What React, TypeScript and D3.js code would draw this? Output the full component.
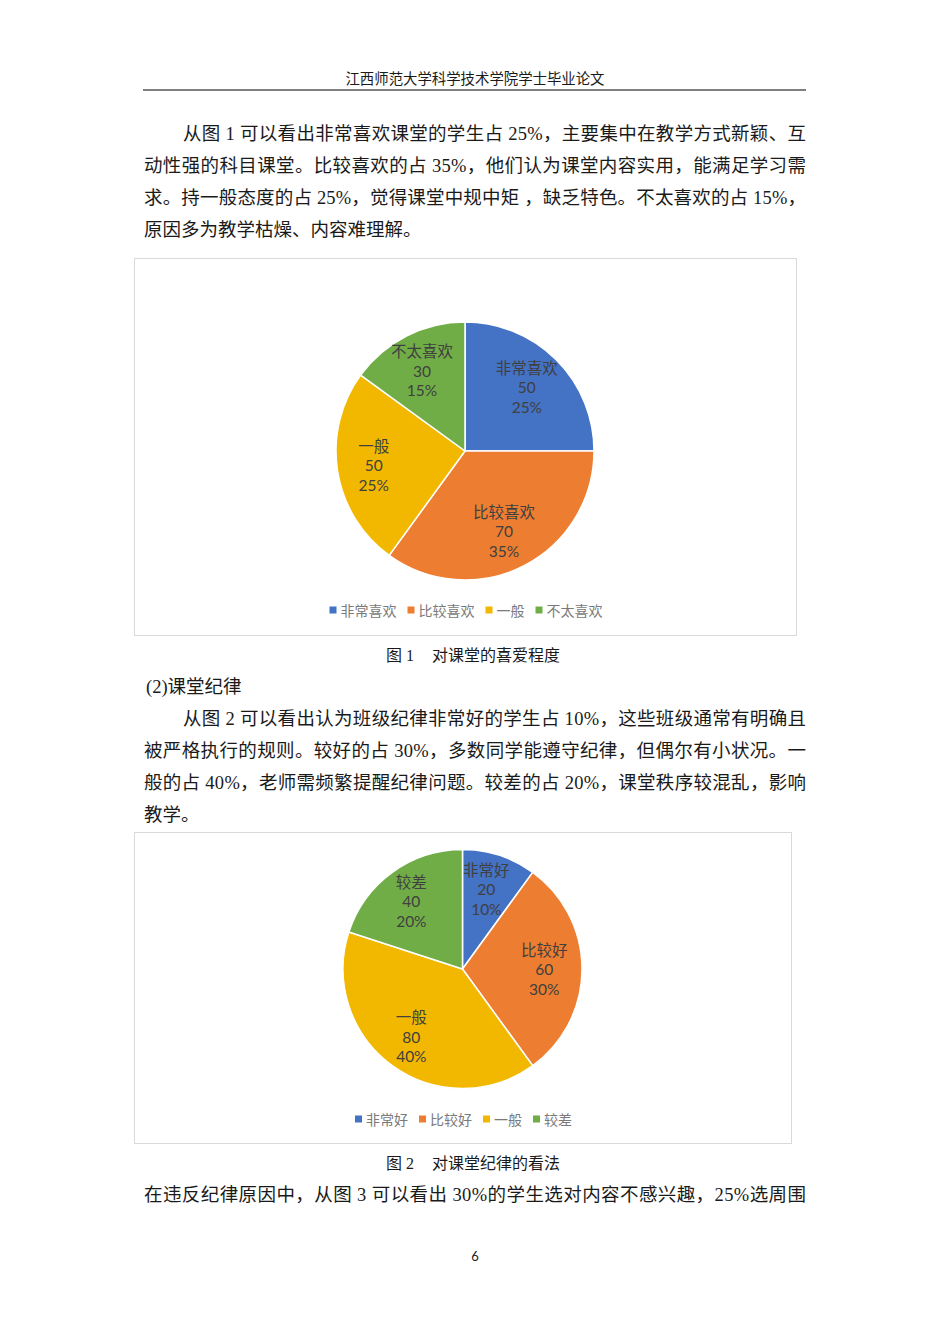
import React from 'react';
import * as d3 from 'd3';

const W = 950;
const H = 1344;

const headerText = '江西师范大学科学技术学院学士毕业论文';
const para1Lines = [
  '从图 1 可以看出非常喜欢课堂的学生占 25%，主要集中在教学方式新颖、互',
  '动性强的科目课堂。比较喜欢的占 35%，他们认为课堂内容实用，能满足学习需',
  '求。持一般态度的占 25%，觉得课堂中规中矩 ，缺乏特色。不太喜欢的占 15%，',
  '原因多为教学枯燥、内容难理解。',
];
const section2Title = '(2)课堂纪律';
const para2Lines = [
  '从图 2 可以看出认为班级纪律非常好的学生占 10%，这些班级通常有明确且',
  '被严格执行的规则。较好的占 30%，多数同学能遵守纪律，但偶尔有小状况。一',
  '般的占 40%，老师需频繁提醒纪律问题。较差的占 20%，课堂秩序较混乱，影响',
  '教学。',
];
const trailingLine = '在违反纪律原因中，从图 3 可以看出 30%的学生选对内容不感兴趣，25%选周围';
const pageNumber = '6';

const chart1Categories = ['非常喜欢', '比较喜欢', '一般', '不太喜欢'];
const chart1Values = [50, 70, 50, 30];
const chart1CaptionNo = '图 1';
const chart1CaptionText = '对课堂的喜爱程度';

const chart2Categories = ['非常好', '比较好', '一般', '较差'];
const chart2Values = [20, 60, 80, 40];
const chart2CaptionNo = '图 2';
const chart2CaptionText = '对课堂纪律的看法';

const seriesColors = ['#4472C4', '#ED7D31', '#F2B800', '#70AD47'];

const BODY_FONT = '"Liberation Serif", "Noto Sans CJK SC", serif';
const LABEL_FONT = 'Lato, "Noto Sans CJK SC", sans-serif';
const LEGEND_FONT = '"Liberation Serif", "Noto Sans CJK SC", serif';

const TEXT_LEFT = 144;
const TEXT_RIGHT = 806;
const INDENT = 39;
const BODY_SIZE = 18.5;

type ParaProps = { lines: string[]; top: number; lineGap: number };

function Paragraph({ lines, top, lineGap }: ParaProps) {
  return (
    <g>
      {lines.map((ln, i) => {
        const x = i === 0 ? TEXT_LEFT + INDENT : TEXT_LEFT;
        const justify = i < lines.length - 1;
        return (
          <text
            key={i}
            x={x}
            y={top + i * lineGap}
            fontSize={BODY_SIZE}
            fontFamily={BODY_FONT}
            fill="#1a1a1a"
            {...(justify ? { textLength: TEXT_RIGHT - x, lengthAdjust: 'spacing' } : {})}
          >
            {ln}
          </text>
        );
      })}
    </g>
  );
}

type PieProps = {
  categories: string[];
  values: number[];
  box: { x0: number; y0: number; x1: number; y1: number };
  cy: number;
  r: number;
  legendY: number;
};

function PieChart({ categories, values, box, cy, r, legendY }: PieProps) {
  const cx = (box.x0 + box.x1) / 2;
  const total = d3.sum(values);
  const pct = d3.format('.0%');
  const color = d3.scaleOrdinal<string, string>().domain(categories).range(seriesColors);
  const pie = d3
    .pie<number>()
    .sort(null)
    .value((d) => d)
    .startAngle(0)
    .endAngle(2 * Math.PI);
  const arcs = pie(values);
  const arc = d3.arc<d3.PieArcDatum<number>>().innerRadius(0).outerRadius(r);
  const labelArc = d3
    .arc<d3.PieArcDatum<number>>()
    .innerRadius(r * 0.7)
    .outerRadius(r * 0.7);

  // legend layout
  const lgSize = 14;
  const sq = 7;
  const sqGap = 4;
  const itemGap = 11;
  const widths = categories.map((c) => sq + sqGap + c.length * lgSize);
  const totalW = d3.sum(widths) + itemGap * (categories.length - 1);
  let lx = cx - totalW / 2 + 1;
  const legendItems = categories.map((c, i) => {
    const item = { c, x: lx, color: color(c) };
    lx += widths[i] + itemGap;
    return item;
  });

  return (
    <g>
      <rect
        x={box.x0 + 0.5}
        y={box.y0 + 0.5}
        width={box.x1 - box.x0}
        height={box.y1 - box.y0}
        fill="#ffffff"
        stroke="#d9d9d9"
        strokeWidth={1}
      />
      <g transform={`translate(${cx},${cy})`}>
        {arcs.map((a, i) => (
          <path
            key={i}
            d={arc(a) || ''}
            fill={color(categories[i])}
            stroke="#ffffff"
            strokeWidth={1.5}
            strokeLinejoin="round"
          />
        ))}
        {arcs.map((a, i) => {
          const [lxp, lyp] = labelArc.centroid(a);
          const lines = [categories[i], String(values[i]), pct(values[i] / total)];
          const x = lxp - 2;
          return (
            <text
              key={'l' + i}
              x={x}
              y={lyp}
              textAnchor="middle"
              fontSize={15.5}
              fontFamily={LABEL_FONT}
              fill="#404040"
            >
              {lines.map((t, k) => (
                <tspan key={k} x={x} y={lyp + (k - 1) * 19.5} dominantBaseline="central">
                  {t}
                </tspan>
              ))}
            </text>
          );
        })}
      </g>
      {legendItems.map((it, i) => (
        <g key={'lg' + i}>
          <rect x={it.x} y={legendY - 9.5} width={sq} height={sq} fill={it.color} />
          <text
            x={it.x + sq + sqGap}
            y={legendY}
            fontSize={lgSize}
            fontFamily={LEGEND_FONT}
            fill="#7a7a7a"
          >
            {it.c}
          </text>
        </g>
      ))}
    </g>
  );
}

function Caption({ no, text, y }: { no: string; text: string; y: number }) {
  return (
    <g fontSize={16} fontFamily={BODY_FONT} fill="#1a1a1a">
      <text x={386} y={y}>
        {no}
      </text>
      <text x={432} y={y}>
        {text}
      </text>
    </g>
  );
}

export default function App() {
  return (
    <svg
      width={W}
      height={H}
      viewBox={`0 0 ${W} ${H}`}
      style={{ position: 'absolute', left: 0, top: 0, background: '#ffffff', display: 'block' }}
    >
      <rect x={0} y={0} width={W} height={H} fill="#ffffff" />
      <text
        x={475}
        y={84}
        textAnchor="middle"
        fontSize={14.4}
        fontFamily={BODY_FONT}
        fill="#1a1a1a"
      >
        {headerText}
      </text>
      <line x1={143} x2={806} y1={90} y2={90} stroke="#555" strokeWidth={1.3} />

      <Paragraph lines={para1Lines} top={140} lineGap={32} />

      <PieChart
        categories={chart1Categories}
        values={chart1Values}
        box={{ x0: 134, y0: 258, x1: 796, y1: 635 }}
        cy={451}
        r={129}
        legendY={616}
      />
      <Caption no={chart1CaptionNo} text={chart1CaptionText} y={661} />

      <text x={146} y={693} fontSize={BODY_SIZE} fontFamily={BODY_FONT} fill="#1a1a1a">
        {section2Title}
      </text>
      <Paragraph lines={para2Lines} top={725} lineGap={32} />

      <PieChart
        categories={chart2Categories}
        values={chart2Values}
        box={{ x0: 134, y0: 832, x1: 791, y1: 1143 }}
        cy={969}
        r={119.5}
        legendY={1125}
      />
      <Caption no={chart2CaptionNo} text={chart2CaptionText} y={1169} />

      <text
        x={TEXT_LEFT}
        y={1201}
        fontSize={BODY_SIZE}
        fontFamily={BODY_FONT}
        fill="#1a1a1a"
        textLength={TEXT_RIGHT - TEXT_LEFT}
        lengthAdjust="spacing"
      >
        {trailingLine}
      </text>

      <text x={475} y={1261} textAnchor="middle" fontSize={13} fontFamily={LABEL_FONT} fill="#1a1a1a">
        {pageNumber}
      </text>
    </svg>
  );
}
